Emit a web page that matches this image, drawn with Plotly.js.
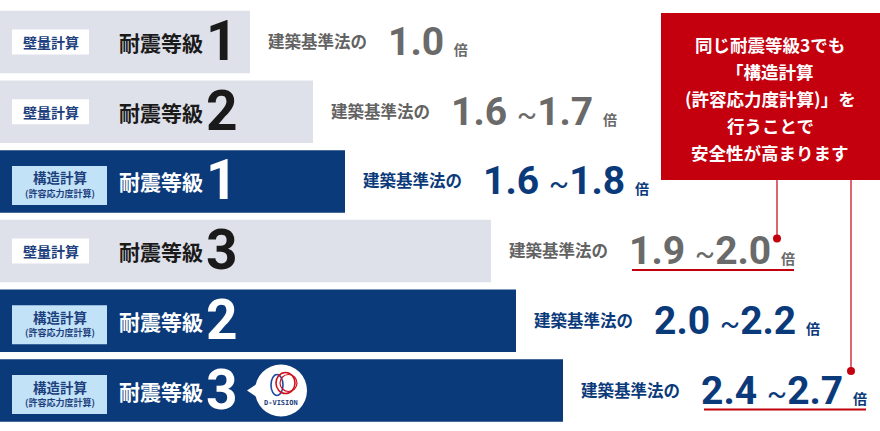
<!DOCTYPE html>
<html>
<head>
<meta charset="utf-8">
<script src="https://cdn.plot.ly/plotly-3.0.1.min.js"></script>
<style>html,body{margin:0;padding:0;background:#fff;}#chart{width:880px;height:431px;}</style>
</head>
<body>
<div id="chart"></div>
<script>
// ---- data ----
const methods = ['壁量計算', '壁量計算', '構造計算', '壁量計算', '構造計算', '構造計算'];
const methodSub = ['', '', '(許容応力度計算)', '', '(許容応力度計算)', '(許容応力度計算)'];
const grades = ['1', '2', '1', '3', '2', '3'];
const barLength = [250, 313, 345, 491, 516, 563];
const ratioLow = ['1.0', '1.6', '1.6', '1.9', '2.0', '2.4'];
const ratioHigh = ['', '1.7', '1.8', '2.0', '2.2', '2.7'];
const gradeLabel = '耐震等級';
const lawLabel = '建築基準法の';
const unitLabel = '倍';
const calloutLines = ['同じ耐震等級3でも', '「構造計算', '(許容応力度計算)」を', '行うことで', '安全性が高まります'];
const highlightRows = [3, 5];
const logoRow = 5;

// ---- style ----
const NAVY = '#0b3a7b', GRAY = '#dfe1ea', RED = '#c4000f', LIGHTBLUE = '#c2e2f7';
const W = 880, H = 431, Y0 = 42, PITCH = 69.7;
const yd = p => (p - Y0) / PITCH;          // pixel offset -> data units
const isStruct = m => m === '構造計算';
const rows = barLength.map((_, i) => i);

const traces = [{
  type: 'bar', orientation: 'h',
  x: barLength, y: rows,
  width: 62.5 / PITCH,
  marker: { color: methods.map(m => isStruct(m) ? NAVY : GRAY), line: { width: 0 } },
  hoverinfo: 'skip'
}];

const shapes = [], annotations = [];
const JP = '"Noto Sans CJK JP", "Noto Sans", sans-serif';
const NUM = 'Roboto, "Noto Sans CJK JP", sans-serif';

rows.forEach(i => {
  const s = isStruct(methods[i]);
  // method box
  if (s) {
    shapes.push({ type: 'rect', xref: 'x', yref: 'y', x0: 12, x1: 107, y0: i + yd(Y0 + 4 - 19.5), y1: i + yd(Y0 + 4 + 19.5), fillcolor: LIGHTBLUE, line: { width: 0 } });
    annotations.push({ xref: 'x', yref: 'y', x: 59.5, y: i, yshift: 4, text: methods[i], showarrow: false, xanchor: 'center', yanchor: 'middle', font: { family: JP, size: 13.5, weight: 700, color: '#1d3f7d' } });
    annotations.push({ xref: 'x', yref: 'y', x: 59.5, y: i, yshift: -12, text: methodSub[i], showarrow: false, xanchor: 'center', yanchor: 'middle', font: { family: JP, size: 9, weight: 700, color: '#1d3f7d' } });
  } else {
    shapes.push({ type: 'rect', xref: 'x', yref: 'y', x0: 12, x1: 89, y0: i + yd(Y0 - 12.5), y1: i + yd(Y0 + 12.5), fillcolor: '#ffffff', line: { width: 0 } });
    annotations.push({ xref: 'x', yref: 'y', x: 50.5, y: i, text: methods[i], showarrow: false, xanchor: 'center', yanchor: 'middle', font: { family: JP, size: 14, weight: 700, color: '#1d3f7d' } });
  }
  const inkCol = s ? '#ffffff' : '#1a1a1a';
  annotations.push({ xref: 'x', yref: 'y', x: 117, y: i, text: gradeLabel, showarrow: false, xanchor: 'left', yanchor: 'middle', font: { family: JP, size: 21, weight: 700, color: inkCol } });
  annotations.push({ xref: 'x', yref: 'y', x: 204, y: i, yshift: 1, text: grades[i], showarrow: false, xanchor: 'left', yanchor: 'middle', font: { family: NUM, size: 55, weight: 700, color: inkCol } });

  // right-side text
  const txtCol = s ? NAVY : '#626262';
  const numCol = s ? NAVY : '#6a6a6a';
  const lx = barLength[i] + 16;
  annotations.push({ xref: 'x', yref: 'y', x: lx, y: i, yshift: 1, text: lawLabel, showarrow: false, xanchor: 'left', yanchor: 'middle', font: { family: JP, size: 16.5, weight: 700, color: txtCol } });
  let t = ratioLow[i];
  if (ratioHigh[i]) t += ' <span style="font-size:30px;font-weight:400">~</span>' + ratioHigh[i];
  t += ' <span style="font-size:14px">' + unitLabel + '</span>';
  annotations.push({ xref: 'x', yref: 'y', x: lx + 120, y: i, yshift: 0, text: t, showarrow: false, xanchor: 'left', yanchor: 'middle', font: { family: NUM, size: 39, weight: 700, color: numCol } });
});

// callout box
const CALLOUT_TOP = 13, CALLOUT_BOT = 180;
shapes.push({ type: 'rect', xref: 'x', yref: 'y', x0: 661, x1: 880, y0: yd(CALLOUT_TOP), y1: yd(CALLOUT_BOT), fillcolor: RED, line: { width: 0 } });
calloutLines.forEach((ln, k) => {
  annotations.push({ xref: 'x', yref: 'y', x: 770, y: yd(44 + k * 27.2), text: ln, showarrow: false, xanchor: 'center', yanchor: 'middle', font: { family: JP, size: 17.5, weight: 700, color: '#ffffff' } });
});

// connectors and underlines for highlighted rows
const dotOffsetX = [286, 288], dotOffsetY = [-12.5, -19.5];
highlightRows.forEach((r, k) => {
  const bx = barLength[r];
  const dx = bx + dotOffsetX[k];
  const dy = r + yd(Y0 + dotOffsetY[k]);
  shapes.push({ type: 'line', xref: 'x', yref: 'y', x0: dx, x1: dx, y0: yd(CALLOUT_BOT), y1: dy, line: { color: RED, width: 1.2 } });
  shapes.push({ type: 'circle', xref: 'x', yref: 'y', x0: dx - 4, x1: dx + 4, y0: dy - 4 / PITCH, y1: dy + 4 / PITCH, fillcolor: RED, line: { width: 0 } });
  const uy = r + yd(Y0 + 19);
  shapes.push({ type: 'line', xref: 'x', yref: 'y', x0: bx + 141, x1: bx + 303, y0: uy, y1: uy, line: { color: RED, width: 2 } });
});

// D-VISION badge on the logo row
(function () {
  const r = logoRow, cx = 281, cy = r + yd(Y0);
  const R = 26 / PITCH;
  shapes.push({ type: 'path', xref: 'x', yref: 'y', path: `M ${cx - 34} ${cy} L ${cx - 22} ${cy - 8 / PITCH} L ${cx - 22} ${cy + 8 / PITCH} Z`, fillcolor: '#ffffff', line: { width: 0 } });
  shapes.push({ type: 'circle', xref: 'x', yref: 'y', x0: cx - 26, x1: cx + 26, y0: cy - R, y1: cy + R, fillcolor: '#ffffff', line: { width: 0 } });
  shapes.push({ type: 'circle', xref: 'x', yref: 'y', x0: cx - 10, x1: cx + 2, y0: cy - 16 / PITCH, y1: cy + 5 / PITCH, fillcolor: 'rgba(0,0,0,0)', line: { color: '#1f4aa0', width: 1.6 } });
  shapes.push({ type: 'circle', xref: 'x', yref: 'y', x0: cx - 5, x1: cx + 14, y0: cy - 18 / PITCH, y1: cy + 3 / PITCH, fillcolor: 'rgba(0,0,0,0)', line: { color: '#d0101e', width: 1.6 } });
  shapes.push({ type: 'circle', xref: 'x', yref: 'y', x0: cx - 1, x1: cx + 16, y0: cy - 16 / PITCH, y1: cy + 1 / PITCH, fillcolor: 'rgba(0,0,0,0)', line: { color: '#d0101e', width: 1.2 } });
  annotations.push({ xref: 'x', yref: 'y', x: cx, y: cy + 12 / PITCH, text: 'D-VISION', showarrow: false, xanchor: 'center', yanchor: 'middle', font: { family: 'DejaVu Sans Mono, monospace', size: 7, weight: 700, color: '#1d3f7d' } });
})();

const layout = {
  width: W, height: H,
  margin: { l: 0, r: 0, t: 0, b: 0, pad: 0 },
  paper_bgcolor: '#ffffff', plot_bgcolor: '#ffffff',
  showlegend: false,
  xaxis: { range: [0, W], visible: false, fixedrange: true },
  yaxis: { range: [yd(H), yd(0)], visible: false, fixedrange: true },
  shapes: shapes, annotations: annotations
};
Plotly.newPlot('chart', traces, layout, { displayModeBar: false, staticPlot: true });
</script>
</body>
</html>
